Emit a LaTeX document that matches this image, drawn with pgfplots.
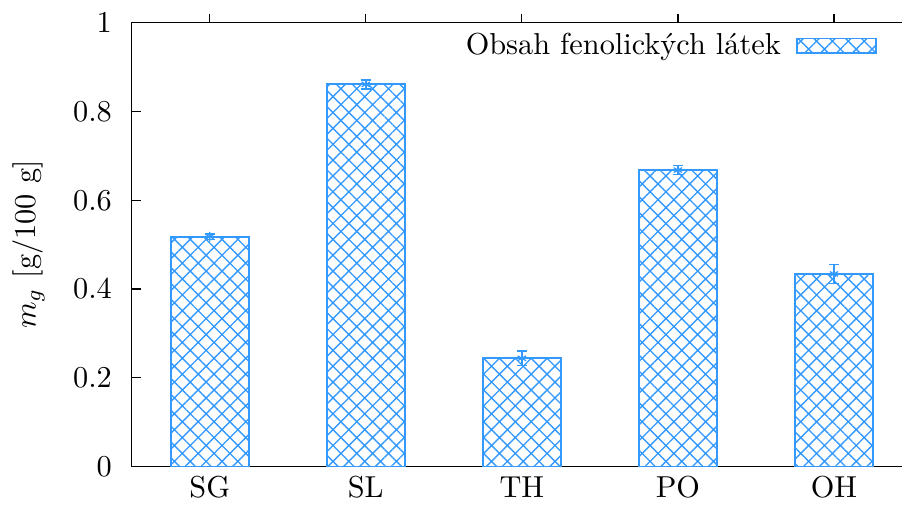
\documentclass[border=0pt]{standalone}
\usepackage{pgfplots}
\pgfplotsset{compat=1.18}
\usetikzlibrary{patterns.meta}
\definecolor{barblue}{RGB}{51,153,255}
\begin{document}
\begin{tikzpicture}
\begin{axis}[
 at={(0,0)}, anchor=south west,
 scale only axis, width=257.5pt, height=146.5pt,
 xmin=-0.5, xmax=4.5, ymin=0, ymax=1,
 xtick={0,1,2,3,4}, xticklabels={SG,SL,TH,PO,OH},
 xtick pos=right, xticklabel pos=left,
 ytick={0,0.2,0.4,0.6,0.8,1}, yticklabels={0,0.2,0.4,0.6,0.8,1},
 tick align=inside, major tick length=3pt,
 axis line style={line width=0.5pt}, tick style={black, line width=0.4pt},
 yticklabel style={xshift=-3pt},
 xticklabel style={yshift=3.3pt},
 ylabel={$m_g$ [g/100 g]},
 every axis y label/.style={at={(axis description cs:-0.132,0.5)}, rotate=90, anchor=center},
 ybar, bar width=0.5,
 legend plot pos=right,
 legend style={draw=none, fill=none, at={(axis description cs:0.967,0.948)}, anchor=east},
 legend image code/.code={\path (0pt,0pt); \draw[#1] (3pt,-2.4pt) rectangle (29pt,2.4pt);},
]
\addplot[draw=barblue, line width=0.6pt,
 pattern={Hatch[angle=45,distance=3.7pt,line width=0.45pt]}, pattern color=barblue,
 mark=asterisk, mark size=1.6pt, mark options={barblue, line width=0.4pt},
 error bars/.cd, y dir=both, y explicit,
 error bar style={barblue, line width=0.5pt},
 error mark options={barblue, mark size=1.6pt, line width=0.5pt, rotate=90}]
 coordinates {
 (0,0.518) +- (0,0.006)
 (1,0.861) +- (0,0.010)
 (2,0.244) +- (0,0.016)
 (3,0.668) +- (0,0.010)
 (4,0.434) +- (0,0.021)
 };
\addlegendentry{Obsah fenolických látek}
\end{axis}
\pgfresetboundingbox
\path[use as bounding box] (-43.46pt,-13.96pt) rectangle (254.2pt,153.99pt);
\end{tikzpicture}
\end{document}
